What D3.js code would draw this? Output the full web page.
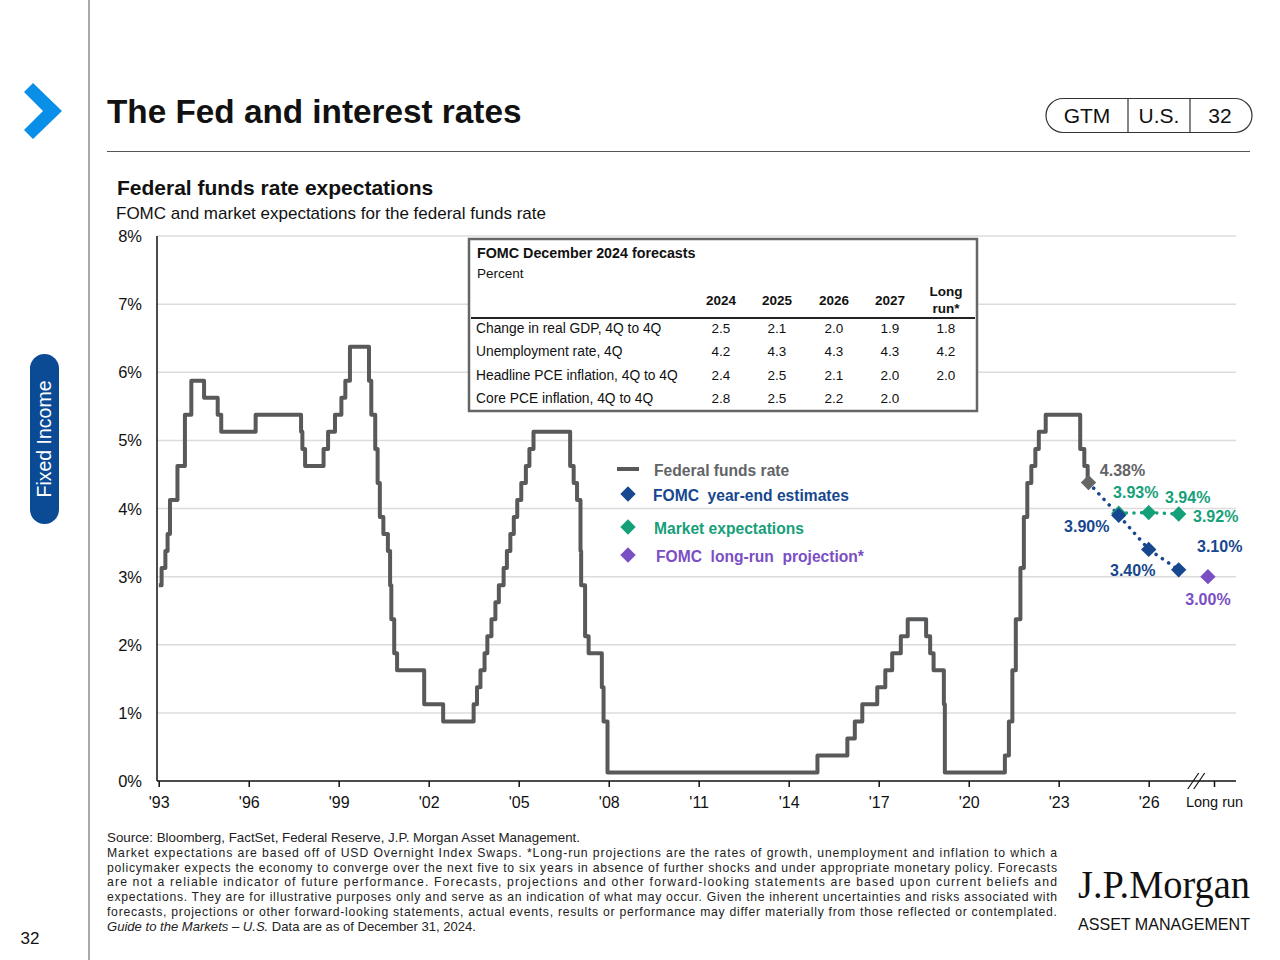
<!DOCTYPE html>
<html><head><meta charset="utf-8">
<script src="https://cdn.jsdelivr.net/npm/d3@7"></script>
<style>
body{margin:0;background:#fff;}
svg{display:block;font-family:"Liberation Sans",Arial,sans-serif;}
</style></head>
<body><svg id="c" width="1280" height="960"></svg>
<script>
// ---------------- DATA ----------------
const ffrDates = ["1994-01-01","1994-02-04","1994-03-22","1994-04-18","1994-05-17","1994-08-16","1994-11-15",
"1995-02-01","1995-07-06","1995-12-19","1996-01-31","1997-03-25","1998-09-29","1998-10-15","1998-11-17",
"1999-06-30","1999-08-24","1999-11-16","2000-02-02","2000-03-21","2000-05-16","2001-01-03","2001-01-31",
"2001-03-20","2001-04-18","2001-05-15","2001-06-27","2001-08-21","2001-09-17","2001-10-02","2001-11-06",
"2001-12-11","2002-11-06","2003-06-25","2004-06-30","2004-08-10","2004-09-21","2004-11-10","2004-12-14",
"2005-02-02","2005-03-22","2005-05-03","2005-06-30","2005-08-09","2005-09-20","2005-11-01","2005-12-13",
"2006-01-31","2006-03-28","2006-05-10","2006-06-29","2007-09-18","2007-10-31","2007-12-11","2008-01-22",
"2008-01-30","2008-03-18","2008-04-30","2008-10-08","2008-10-29","2008-12-16","2015-12-16","2016-12-14",
"2017-03-15","2017-06-14","2017-12-13","2018-03-21","2018-06-13","2018-09-26","2018-12-19","2019-07-31",
"2019-09-18","2019-10-30","2020-03-03","2020-03-15","2022-03-16","2022-05-04","2022-06-15","2022-07-27",
"2022-09-21","2022-11-02","2022-12-14","2023-02-01","2023-03-22","2023-05-03","2023-07-26","2024-09-18",
"2024-11-07","2024-12-18","2024-12-31"];
const ffrValues = [2.875,3.125,3.375,3.625,4.125,4.625,5.375,
5.875,5.625,5.375,5.125,5.375,5.125,4.875,4.625,
4.875,5.125,5.375,5.625,5.875,6.375,5.875,5.375,
4.875,4.375,3.875,3.625,3.375,2.875,2.375,1.875,
1.625,1.125,0.875,1.125,1.375,1.625,1.875,2.125,
2.375,2.625,2.875,3.125,3.375,3.625,3.875,4.125,
4.375,4.625,4.875,5.125,4.625,4.375,4.125,3.375,
2.875,2.125,1.875,1.375,0.875,0.125,0.375,0.625,
0.875,1.125,1.375,1.625,1.875,2.125,2.375,2.125,
1.875,1.625,1.125,0.125,0.375,0.875,1.625,2.375,
3.125,3.875,4.375,4.625,4.875,5.125,5.375,4.875,
4.625,4.375,4.375];

const currentDate = "2024-12-28";
const currentValue = 4.38;
const fomcDates = ["2025-12-31","2026-12-31","2027-12-31"];
const fomcValues = [3.90,3.40,3.10];
const marketDates = ["2025-12-31","2026-12-31","2027-12-31"];
const marketValues = [3.93,3.94,3.92];
const longRunDate = "2028-12-21";
const longRunValue = 3.00;

const xTickDates = ["1993-12-31","1996-12-31","1999-12-31","2002-12-31","2005-12-31","2008-12-31","2011-12-31","2014-12-31","2017-12-31","2020-12-31","2023-12-31","2026-12-31","2029-03-05"];
const xTickLabels = ["'93","'96","'99","'02","'05","'08","'11","'14","'17","'20","'23","'26","Long run"];
const yTicks = [0,1,2,3,4,5,6,7,8];

const legendLabels = ["Federal funds rate","FOMC  year-end estimates","Market expectations","FOMC  long-run  projection*"];

const tableYears = ["2024","2025","2026","2027","Long|run*"];
const tableRows = ["Change in real GDP, 4Q to 4Q","Unemployment rate, 4Q","Headline PCE inflation, 4Q to 4Q","Core PCE inflation, 4Q to 4Q"];
const tableGDP = ["2.5","2.1","2.0","1.9","1.8"];
const tableUnemp = ["4.2","4.3","4.3","4.3","4.2"];
const tableHeadPCE = ["2.4","2.5","2.1","2.0","2.0"];
const tableCorePCE = ["2.8","2.5","2.2","2.0",""];

const footLines = [
"Source: Bloomberg, FactSet, Federal Reserve, J.P. Morgan Asset Management.",
"Market expectations are based off of USD Overnight Index Swaps. *Long-run projections are the rates of growth, unemployment and inflation to which a",
"policymaker expects the economy to converge over the next five to six years in absence of further shocks and under appropriate monetary policy. Forecasts",
"are not a reliable indicator of future performance. Forecasts, projections and other forward-looking statements are based upon current beliefs and",
"expectations. They are for illustrative purposes only and serve as an indication of what may occur. Given the inherent uncertainties and risks associated with",
"forecasts, projections or other forward-looking statements, actual events, results or performance may differ materially from those reflected or contemplated."
];

// ---------------- STYLE ----------------
const C = {gray:"#58595b", navy:"#17478e", green:"#16a079", purple:"#7a4fc4", grid:"#dcdcdc", grayLbl:"#636466"};
const svg = d3.select("#c");
const P = d3.timeParse("%Y-%m-%d");

// page furniture
svg.append("line").attr("x1",89).attr("x2",89).attr("y1",0).attr("y2",960).attr("stroke","#555").attr("stroke-width",1);
svg.append("polygon").attr("points","24,92 33,83 62,111 33,139 24,130 43,111").attr("fill","#0a8fe9");
svg.append("text").attr("x",107).attr("y",123).attr("font-size",33.3).attr("font-weight","bold").attr("fill","#111").text("The Fed and interest rates");
svg.append("line").attr("x1",107).attr("x2",1250).attr("y1",151.5).attr("y2",151.5).attr("stroke","#555").attr("stroke-width",1.2);
svg.append("rect").attr("x",1046).attr("y",98.5).attr("width",206).attr("height",34).attr("rx",17).attr("fill","none").attr("stroke","#333").attr("stroke-width",1.2);
[1128,1190].forEach(x=>svg.append("line").attr("x1",x).attr("x2",x).attr("y1",98.5).attr("y2",132.5).attr("stroke","#333").attr("stroke-width",1.2));
[["GTM",1087],["U.S.",1159],["32",1220]].forEach(([t,x])=>svg.append("text").attr("x",x).attr("y",123).attr("text-anchor","middle").attr("font-size",21).attr("fill","#111").text(t));
svg.append("rect").attr("x",30).attr("y",354).attr("width",29).attr("height",170).attr("rx",14.5).attr("fill","#0b4a94");
svg.append("text").attr("transform","translate(51,439) rotate(-90)").attr("text-anchor","middle").attr("font-size",19.5).attr("fill","#fff").text("Fixed Income");
svg.append("text").attr("x",30).attr("y",944).attr("text-anchor","middle").attr("font-size",17).attr("fill","#111").text("32");

svg.append("text").attr("x",117).attr("y",195).attr("font-size",21).attr("font-weight","bold").attr("fill","#111").text("Federal funds rate expectations");
svg.append("text").attr("x",116).attr("y",219).attr("font-size",17).attr("fill","#111").text("FOMC and market expectations for the federal funds rate");

// ---------------- SCALES ----------------
const x = d3.scaleTime().domain([P("1993-12-10"), P("2029-12-10")]).range([157, 1237]);
const y = d3.scaleLinear().domain([0,8]).range([781,236]);

// gridlines
svg.append("g").selectAll("line").data(yTicks.filter(d=>d>0)).join("line")
  .attr("x1",157).attr("x2",1236).attr("y1",d=>y(d)).attr("y2",d=>y(d))
  .attr("stroke",C.grid).attr("stroke-width",1.5);

// y labels
svg.append("g").selectAll("text").data(yTicks).join("text")
  .attr("x",142).attr("y",d=>y(d)+6).attr("text-anchor","end").attr("font-size",16.5).attr("fill","#111")
  .text(d=>d+"%");

// axes lines
svg.append("line").attr("x1",157).attr("x2",157).attr("y1",236).attr("y2",781).attr("stroke","#111").attr("stroke-width",1.5);
const xAxis = d3.axisBottom(x).tickValues(xTickDates.map(P)).tickSize(6).tickFormat((d,i)=>xTickLabels[i]);
const gx = svg.append("g").attr("transform","translate(0,781)").call(xAxis);
gx.select(".domain").attr("d","M157,0H1236").attr("stroke","#111").attr("stroke-width",1.5);
gx.selectAll(".tick line").attr("stroke","#111").attr("stroke-width",1.5);
gx.selectAll(".tick text").attr("font-size",16).attr("fill","#111").attr("y",13).attr("dy","0.9em").attr("font-family","Liberation Sans, Arial");
gx.selectAll(".tick text").filter((d,i)=>i===xTickLabels.length-1).attr("font-size",14.5);
// break marks
const bx = x(P("2028-07-01"));
[0,6].forEach(o=>svg.append("line").attr("x1",bx-6+o).attr("y1",789).attr("x2",bx+5+o).attr("y2",773).attr("stroke","#111").attr("stroke-width",1.2));

// ---------------- TABLE ----------------
const tb = svg.append("g");
tb.append("rect").attr("x",469).attr("y",239).attr("width",508).attr("height",172).attr("fill","#fff").attr("stroke","#666").attr("stroke-width",2.5);
tb.append("text").attr("x",477).attr("y",258).attr("font-size",14.3).attr("font-weight","bold").attr("fill","#111").text("FOMC December 2024 forecasts");
tb.append("text").attr("x",477).attr("y",278).attr("font-size",13.5).attr("fill","#111").text("Percent");
const colX = [721,777,834,890,946];
tableYears.forEach((t,i)=>{
  const parts = t.split("|");
  if(parts.length===1){
    tb.append("text").attr("x",colX[i]).attr("y",305).attr("text-anchor","middle").attr("font-size",13.5).attr("font-weight","bold").attr("fill","#111").text(t);
  } else {
    tb.append("text").attr("x",colX[i]).attr("y",296).attr("text-anchor","middle").attr("font-size",13.5).attr("font-weight","bold").attr("fill","#111").text(parts[0]);
    tb.append("text").attr("x",colX[i]).attr("y",313).attr("text-anchor","middle").attr("font-size",13.5).attr("font-weight","bold").attr("fill","#111").text(parts[1]);
  }
});
tb.append("line").attr("x1",471).attr("x2",975).attr("y1",318).attr("y2",318).attr("stroke","#222").attr("stroke-width",1.8);
const tableVals = [tableGDP,tableUnemp,tableHeadPCE,tableCorePCE];
const rowY = [333,356,380,403];
tableRows.forEach((r,j)=>{
  tb.append("text").attr("x",476).attr("y",rowY[j]).attr("font-size",13.8).attr("fill","#111").text(r);
  tableVals[j].forEach((v,i)=>tb.append("text").attr("x",colX[i]).attr("y",rowY[j]).attr("text-anchor","middle").attr("font-size",13.5).attr("fill","#111").text(v));
});

// ---------------- SERIES ----------------
const ffr = ffrDates.map((d,i)=>({date:P(d), v:ffrValues[i]}));
const line = d3.line().x(d=>x(d.date)).y(d=>y(d.v)).curve(d3.curveStepAfter);
svg.append("path").datum(ffr).attr("d",line).attr("fill","none").attr("stroke",C.gray).attr("stroke-width",4).attr("stroke-linejoin","round");

const cur = {date:P(currentDate), v:currentValue};
const fomc = fomcDates.map((d,i)=>({date:P(d), v:fomcValues[i]}));
const mkt = marketDates.map((d,i)=>({date:P(d), v:marketValues[i]}));
const lr = {date:P(longRunDate), v:longRunValue};
const lin = d3.line().x(d=>x(d.date)).y(d=>y(d.v));

svg.append("path").datum(mkt).attr("d",lin).attr("fill","none").attr("stroke",C.green).attr("stroke-width",3.5).attr("stroke-linecap","round").attr("stroke-dasharray","0.1 7.5");
svg.append("path").datum([cur].concat(fomc)).attr("d",lin).attr("fill","none").attr("stroke",C.navy).attr("stroke-width",3.5).attr("stroke-linecap","round").attr("stroke-dasharray","0.1 7.5");

const diamond = d3.symbol().type(d3.symbolSquare).size(118);
function drawDiamonds(data,color){
  svg.append("g").selectAll("path").data(data).join("path")
    .attr("d",diamond).attr("fill",color)
    .attr("transform",d=>`translate(${x(d.date)},${y(d.v)}) rotate(45)`);
}
drawDiamonds(mkt,C.green);
drawDiamonds(fomc,C.navy);
drawDiamonds([cur],"#666");
drawDiamonds([lr],C.purple);

// data labels
const fmt = v=>d3.format(".2f")(v)+"%";
function label(p,dx,dy,color){
  svg.append("text").attr("x",x(p.date)+dx).attr("y",y(p.v)+dy+5.5).attr("text-anchor","middle")
    .attr("font-size",16).attr("font-weight","bold").attr("fill",color).text(fmt(p.v));
}
label(cur,34,-12,C.grayLbl);
label(mkt[0],17,-21,C.green);
label(mkt[1],39,-15,C.green);
label(mkt[2],37,3,C.green);
label(fomc[0],-32,11,C.navy);
label(fomc[1],-16,21,C.navy);
label(fomc[2],41,-23,C.navy);
label(lr,0,23,C.purple);

// ---------------- LEGEND ----------------
const lg = svg.append("g");
lg.append("line").attr("x1",617).attr("x2",639).attr("y1",469).attr("y2",469).attr("stroke",C.gray).attr("stroke-width",4);
const lgCols = [C.grayLbl,C.navy,C.green,C.purple];
const lgY = [470,495,528,556];
const lgX = [654,653,654,656];
[1,2,3].forEach(i=>lg.append("path").attr("d",diamond).attr("fill",lgCols[i]).attr("transform",`translate(628,${lgY[i]-1}) rotate(45)`));
legendLabels.forEach((t,i)=>lg.append("text").attr("x",lgX[i]).attr("y",lgY[i]+5.5).attr("font-size",15.6).attr("font-weight","bold").attr("fill",lgCols[i]).attr("xml:space","preserve").style("white-space","pre").text(t));

// ---------------- FOOTNOTE ----------------
const ft = svg.append("g").attr("font-size",12.2).attr("fill","#222");
footLines.forEach((t,i)=>{
  const tx = ft.append("text").attr("x",107).attr("y",842+i*14.8).text(t);
  if(i>0) tx.attr("textLength",950).attr("lengthAdjust","spacing");
  else tx.attr("textLength",473).attr("lengthAdjust","spacingAndGlyphs");
});
const last = ft.append("text").attr("x",107).attr("y",842+6*14.8).attr("textLength",369).attr("lengthAdjust","spacingAndGlyphs");
last.append("tspan").attr("font-style","italic").text("Guide to the Markets – U.S.");
last.append("tspan").text(" Data are as of December 31, 2024.");

// logo
svg.append("text").attr("x",1078).attr("y",898).attr("font-family","Liberation Serif, serif").attr("font-size",40).attr("fill","#111").attr("textLength",172).attr("lengthAdjust","spacingAndGlyphs").text("J.P.Morgan");
svg.append("text").attr("x",1078).attr("y",930).attr("font-size",17).attr("fill","#111").attr("textLength",172).attr("lengthAdjust","spacingAndGlyphs").text("ASSET MANAGEMENT");
</script></body></html>
